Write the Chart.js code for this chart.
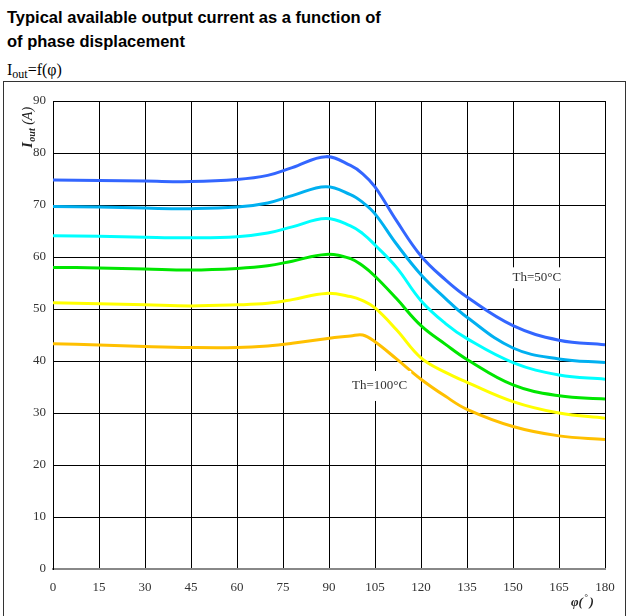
<!DOCTYPE html>
<html>
<head>
<meta charset="utf-8">
<script src="https://cdn.jsdelivr.net/npm/chart.js@4"></script>
<style>
  body{ margin:0; background:#fff; width:628px; height:616px; overflow:hidden; position:relative; }
  #title{ position:absolute; left:7px; top:5px; font:bold 16.5px "Liberation Sans", Arial, sans-serif; line-height:24px; color:#000; white-space:nowrap; }
  #formula{ position:absolute; left:7px; top:60px; font:16px "Liberation Serif", "Times New Roman", serif; line-height:20px; color:#000; }
  #formula sub{ font-size:12px; vertical-align:baseline; position:relative; top:3px; }
  #frame{ position:absolute; left:3px; top:81px; width:621px; height:600px; border:1px solid #333; }
  #chart{ position:absolute; left:0; top:0; }
</style>
</head>
<body>
<div id="title">Typical available output current as a function of<br>of phase displacement</div>
<div id="formula">I<sub>out</sub>=f(φ)</div>
<div id="frame"></div>
<canvas id="chart" width="628" height="616"></canvas>
<script>
// phase displacement (deg) where each curve is sampled
const phi = [0, 15, 30, 45, 60, 70, 78, 89, 97, 101, 105, 112, 120, 128, 135, 150, 165, 180];

// output current (A) per heatsink temperature
const th50  = [74.8, 74.7, 74.6, 74.5, 74.9, 75.7, 77.2, 79.3, 77.6, 76.0, 73.5, 67.0, 60.2, 55.6, 52.3, 46.8, 44.0, 43.1];
const th60  = [69.7, 69.6, 69.4, 69.3, 69.6, 70.4, 71.8, 73.5, 72.0, 70.5, 68.3, 62.5, 56.6, 52.0, 48.4, 42.5, 40.4, 39.7];
const th70  = [64.1, 64.0, 63.8, 63.7, 63.9, 64.6, 65.8, 67.4, 66.0, 64.5, 62.3, 58.0, 51.6, 47.2, 44.3, 39.7, 37.3, 36.5];
const th80  = [58.0, 57.9, 57.7, 57.5, 57.8, 58.3, 59.2, 60.5, 59.7, 58.3, 56.3, 52.0, 46.8, 43.2, 40.3, 35.4, 33.3, 32.7];
const th90  = [51.2, 51.0, 50.8, 50.6, 50.8, 51.1, 51.8, 53.0, 52.4, 51.6, 50.2, 46.0, 40.6, 37.8, 35.9, 32.2, 30.0, 29.0];
const th100 = [43.3, 43.1, 42.8, 42.6, 42.6, 42.9, 43.4, 44.3, 44.8, 45.0, 43.7, 40.4, 36.5, 33.2, 30.7, 27.4, 25.6, 24.9];

const series = [th50, th60, th70, th80, th90, th100];
const colors = ['#3366ff', '#00b0f0', '#00ffff', '#00e600', '#ffff00', '#ffc000'];

// curve labels, placed in data coordinates
const notes = [
  { text: 'Th=50°C',  x: 157.8, y: 56.0, h: 21 },
  { text: 'Th=100°C', x: 106.5, y: 35.2, h: 30 }
];

const serif = '"Liberation Serif", "Times New Roman", serif';

const extras = {
  id: 'extras',
  afterDatasetsDraw(chart){
    const { ctx, scales: { x, y } } = chart;
    ctx.save();
    ctx.font = '13px ' + serif;
    ctx.textAlign = 'center';
    ctx.textBaseline = 'middle';
    notes.forEach(n => {
      const px = x.getPixelForValue(n.x), py = y.getPixelForValue(n.y);
      const w = ctx.measureText(n.text).width + 8;
      ctx.fillStyle = '#fff';
      ctx.fillRect(px - w / 2, py - n.h / 2, w, n.h);
      ctx.fillStyle = '#333';
      ctx.fillText(n.text, px, py);
    });
    ctx.restore();
  },
  afterDraw(chart){
    const { ctx } = chart;
    ctx.save();
    ctx.fillStyle = '#222';
    ctx.textBaseline = 'alphabetic';
    ctx.textAlign = 'left';

    // vertical axis title: I_out (A)
    ctx.translate(31.5, 148);
    ctx.rotate(-Math.PI / 2);
    let cx = 0;
    ctx.font = 'italic bold 15px ' + serif;
    ctx.fillText('I', cx, 0); cx += ctx.measureText('I').width + 0.5;
    ctx.font = 'italic bold 10px ' + serif;
    ctx.fillText('out', cx, 3); cx += ctx.measureText('out').width;
    ctx.font = 'italic 14px ' + serif;
    ctx.fillText(' (A)', cx, 0);
    ctx.setTransform(1, 0, 0, 1, 0, 0);

    // horizontal axis title: φ(°)
    let fx = 571;
    ctx.font = 'italic bold 13px ' + serif;
    ctx.fillText('φ(', fx, 606); fx += ctx.measureText('φ(').width + 1;
    ctx.font = 'italic bold 9px ' + serif;
    ctx.fillText('°', fx, 600); fx += ctx.measureText('°').width + 2;
    ctx.font = 'italic bold 13px ' + serif;
    ctx.fillText(')', fx, 606);
    ctx.restore();
  }
};

const tickFont = { family: serif, size: 13 };

new Chart(document.getElementById('chart'), {
  type: 'line',
  data: {
    datasets: series.map((vals, i) => ({
      data: phi.map((p, j) => ({ x: p, y: vals[j] })),
      borderColor: colors[i],
      borderWidth: 3,
      pointRadius: 0,
      fill: false,
      tension: 0.4
    }))
  },
  options: {
    responsive: false,
    animation: false,
    layout: { padding: { left: 0, top: 101, right: 23, bottom: 0 } },
    plugins: { legend: { display: false }, tooltip: { enabled: false } },
    scales: {
      x: {
        type: 'linear', min: 0, max: 180,
        ticks: { stepSize: 15, color: '#333', font: tickFont, padding: 11, maxRotation: 0, autoSkip: false },
        grid: { color: '#000', lineWidth: 1, drawTicks: false },
        border: { color: '#888', width: 2 },
        afterFit(s){ s.height = 47; }
      },
      y: {
        min: 0, max: 90,
        ticks: { stepSize: 10, color: '#333', font: tickFont, padding: 7 },
        grid: { color: '#000', lineWidth: 1, drawTicks: false },
        border: { color: '#000', width: 1 },
        afterFit(s){ s.width = 53; }
      }
    }
  },
  plugins: [extras]
});
</script>
</body>
</html>
